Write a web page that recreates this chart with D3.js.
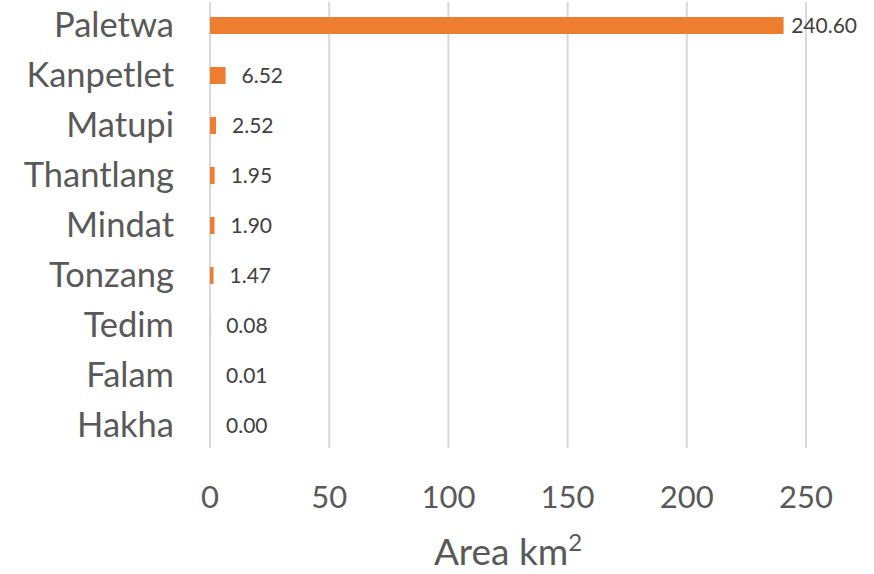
<!DOCTYPE html>
<html><head><meta charset="utf-8">
<script src="https://cdn.jsdelivr.net/npm/d3@7"></script>
<style>body{margin:0;background:#fff}svg{display:block}text{font-family:Lato,"Open Sans",sans-serif}</style>
</head><body><svg id="c" width="874" height="574"></svg>
<script>
const categories = ["Paletwa","Kanpetlet","Matupi","Thantlang","Mindat","Tonzang","Tedim","Falam","Hakha"];
const values = [240.60, 6.52, 2.52, 1.95, 1.90, 1.47, 0.08, 0.01, 0.00];
const xTicks = [0, 50, 100, 150, 200, 250];

const svg = d3.select("#c");
const x = d3.scaleLinear().domain([0, 250]).range([210, 806]);
const y = d3.scaleBand().domain(categories).range([0.5, 450.5]).paddingInner(0.66).paddingOuter(0.33);

svg.append("g").selectAll("line").data(xTicks).join("line")
  .attr("x1", d => x(d)).attr("x2", d => x(d)).attr("y1", 2).attr("y2", 448)
  .attr("stroke", "#d9d9d9").attr("stroke-width", 2);

svg.append("g").selectAll("rect").data(values).join("rect")
  .attr("x", x(0)).attr("y", (d, i) => y(categories[i]))
  .attr("width", d => x(d) - x(0)).attr("height", y.bandwidth())
  .attr("fill", "#ed7d31");

svg.append("g").selectAll("text").data(categories).join("text")
  .attr("x", 174).attr("y", d => y(d) + y.bandwidth() / 2 + 11)
  .attr("text-anchor", "end").attr("font-size", 34.5).attr("fill", "#595959").text(d => d);

const labels = svg.append("g").selectAll("text").data(values).join("text")
  .attr("y", (d, i) => y(categories[i]) + y.bandwidth() / 2 + 7)
  .attr("font-size", 21).attr("fill", "#404040").text(d => d.toFixed(2));
labels.each(function(d) {
  const w = this.getComputedTextLength();
  this.setAttribute("x", Math.min(x(d) + 16, 857 - w));
});

svg.append("g").selectAll("text").data(xTicks).join("text")
  .attr("x", d => x(d)).attr("y", 508).attr("text-anchor", "middle")
  .attr("font-size", 31).attr("fill", "#595959").text(d => d);

const t = svg.append("text").attr("x", (x(0) + x(250)) / 2).attr("y", 565)
  .attr("text-anchor", "middle").attr("font-size", 37).attr("fill", "#595959");
t.append("tspan").text("Area km");
t.append("tspan").attr("font-size", 24).attr("dy", -14).text("2");
</script></body></html>
